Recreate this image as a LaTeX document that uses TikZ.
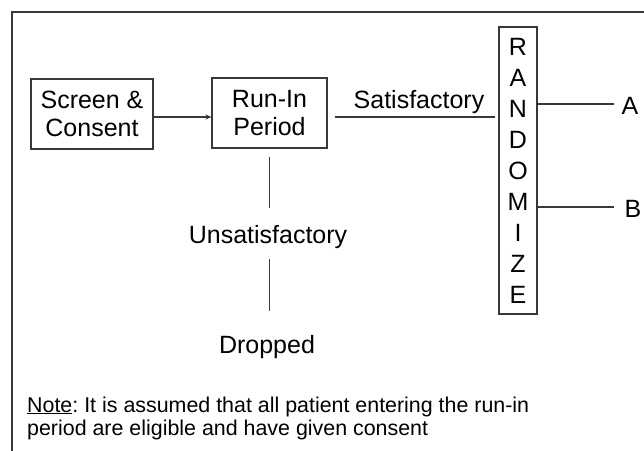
\documentclass[tikz,border=0pt]{standalone}
\usepackage{fontspec}
\setmainfont{Liberation Sans}
\usetikzlibrary{calc,arrows.meta}
\frenchspacing
\begin{document}
\begin{tikzpicture}[x=1pt,y=-1pt,
  ln/.style={draw=black!78, line width=1.1pt},
  box/.style={draw=black!78, line width=1.1pt, align=center, inner sep=0pt,
    text=black, font=\fontsize{25}{28}\selectfont},
  lbl/.style={inner sep=0pt, anchor=base, text=black, font=\fontsize{25}{30}\selectfont},
  notetext/.style={inner sep=0pt, anchor=base west, text=black, font=\fontsize{21.4}{23}\selectfont}]
\useasboundingbox (0,0) rectangle (644,450);
\fill[white] (0,0) rectangle (644,450);
% outer frame
\draw[ln] (12,452) -- (12,12) -- (646,12);
% boxes
\node[box, minimum width=122pt, minimum height=70pt] (scr) at (92,114) {Screen \&\\Consent};
\node[box, minimum width=115pt, minimum height=70pt] (run) at (269.5,113) {Run-In\\Period};
\node[box, minimum width=38pt, minimum height=287pt, font=\fontsize{25}{31}\selectfont] (rnd) at (518,170.5)
  {R\\A\\N\\D\\O\\M\\I\\Z\\E};
% labels
\node[lbl] (sat) at (419,108) {Satisfactory};
\node[lbl] (uns) at (268,243) {Unsatisfactory};
\node[lbl] (drp) at (267,353) {Dropped};
\node[lbl] (A) at (630,114) {A};
\node[lbl] (B) at (633,217) {B};
% note
\node[notetext] (note1) at (27,412) {\underline{Note}: It is assumed that all patient entering the run-in};
\node[notetext] (note2) at (27,435) {period are eligible and have given consent};
% connectors
\coordinate (ay) at (0,117);
\coordinate (la) at (0,104);
\coordinate (lb) at (0,207);
\draw[ln, -{Stealth[length=6pt,width=5pt]}] (scr.east |- ay) -- (run.west |- ay);
\draw[ln] ($(run.east |- ay)+(7,0)$) -- ($(rnd.west |- ay)+(-3,0)$);
\draw[ln] (rnd.east |- la) -- ($(A.west |- la)+(-7,0)$);
\draw[ln] (rnd.east |- lb) -- ($(B.west |- lb)+(-10,0)$);
\draw[ln] ($(run.south)+(0,8)$) -- ($(run.south |- uns.north)+(0,-17)$);
\draw[ln] ($(run.south |- uns.south)+(0,11)$) -- ($(run.south |- drp.north)+(0,-24)$);
\end{tikzpicture}
\end{document}
